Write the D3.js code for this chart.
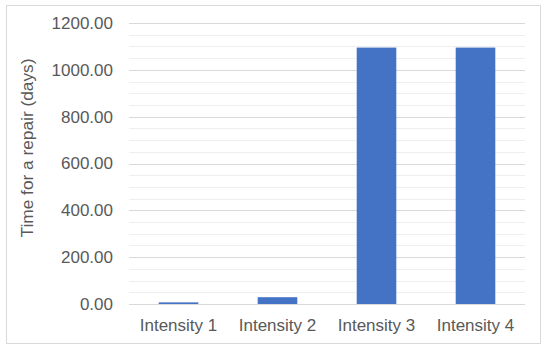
<!DOCTYPE html>
<html>
<head>
<meta charset="utf-8">
<script src="https://cdn.jsdelivr.net/npm/d3@7"></script>
<style>
  body { margin: 0; background: #fff; }
  text { font-family: Arial, "Liberation Sans", sans-serif; fill: #595959; }
</style>
</head>
<body>
<div id="chart"></div>
<script>
// data
let categories = ["Intensity 1", "Intensity 2", "Intensity 3", "Intensity 4"];
let repairDays = [7, 29, 1095, 1095];
let majorTicks = [0, 200, 400, 600, 800, 1000, 1200];
let minorTicks = d3.range(0, 1201, 50);

let width = 550;
let height = 351;
let plot = { left: 129, right: 525, top: 23, bottom: 304 };

let svg = d3.select("#chart")
    .append("svg")
    .attr("width", width)
    .attr("height", height);

// chart border
svg.append("rect")
    .attr("x", 6.5)
    .attr("y", 5.5)
    .attr("width", 534)
    .attr("height", 338)
    .attr("fill", "#fff")
    .attr("stroke", "#d9d9d9");

let x = d3.scaleBand()
    .domain(categories)
    .range([plot.left, plot.right])
    .paddingInner(0.6)
    .paddingOuter(0.3);

let y = d3.scaleLinear()
    .domain([0, 1200])
    .range([plot.bottom, plot.top]);

// minor grid
svg.append("g")
    .selectAll("line")
    .data(minorTicks.filter(d => majorTicks.indexOf(d) < 0))
    .enter()
    .append("line")
    .attr("x1", plot.left)
    .attr("x2", plot.right)
    .attr("y1", d => Math.round(y(d)) + 0.5)
    .attr("y2", d => Math.round(y(d)) + 0.5)
    .attr("stroke", "#eeeeee");

// major grid
svg.append("g")
    .selectAll("line")
    .data(majorTicks)
    .enter()
    .append("line")
    .attr("x1", plot.left)
    .attr("x2", plot.right)
    .attr("y1", d => Math.round(y(d)) + 0.5)
    .attr("y2", d => Math.round(y(d)) + 0.5)
    .attr("stroke", "#d9d9d9");

let yAxis = d3.axisLeft(y)
    .tickValues(majorTicks)
    .tickFormat(d3.format(".2f"))
    .tickSize(0)
    .tickPadding(16);

svg.append("g")
    .attr("class", "axis y-axis")
    .attr("transform", "translate(" + plot.left + ",0)")
    .call(yAxis)
    .call(g => g.select(".domain").remove())
    .selectAll("text")
    .attr("font-size", 17)
    .attr("font-family", "Arial, 'Liberation Sans', sans-serif")
    .attr("fill", "#595959");

let xAxis = d3.axisBottom(x)
    .tickSize(0)
    .tickPadding(15);

svg.append("g")
    .attr("class", "axis x-axis")
    .attr("transform", "translate(0," + plot.bottom + ")")
    .call(xAxis)
    .call(g => g.select(".domain").remove())
    .selectAll("text")
    .attr("font-size", 17)
    .attr("font-family", "Arial, 'Liberation Sans', sans-serif")
    .attr("fill", "#595959");

// bars
svg.selectAll(".bar")
    .data(categories)
    .enter()
    .append("rect")
    .attr("class", "bar")
    .attr("x", d => x(d))
    .attr("width", x.bandwidth())
    .attr("y", (d, i) => y(repairDays[i]))
    .attr("height", (d, i) => y(0) - y(repairDays[i]))
    .attr("fill", "#4472c4");

// axis title
svg.append("text")
    .text("Time for a repair (days)")
    .attr("text-anchor", "middle")
    .attr("transform", "translate(33,148) rotate(-90)")
    .attr("font-size", 17.3);
</script>
</body>
</html>
